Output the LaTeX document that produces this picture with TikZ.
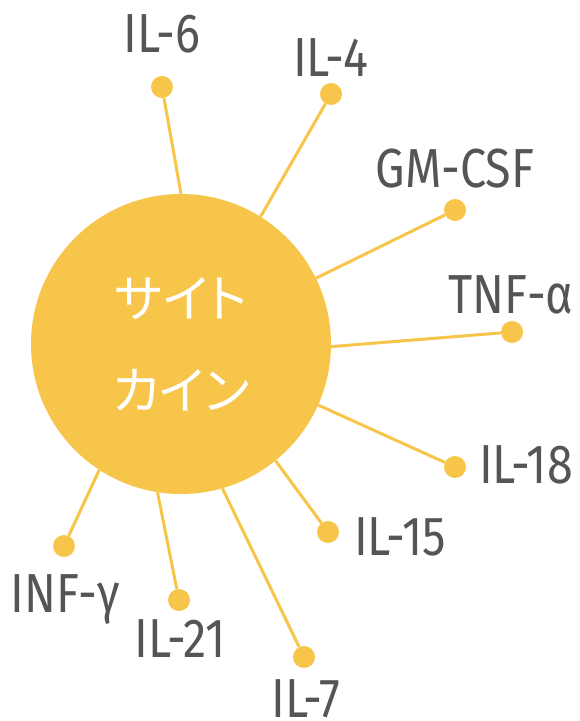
\documentclass[tikz,border=0pt]{standalone}
\usepackage{fontspec}
\setmainfont[FakeStretch=0.85]{Fira Sans}
\newfontfamily\jpfont[RawFeature=+palt]{Noto Sans CJK JP}
\definecolor{cyto}{HTML}{F6C54A}
\definecolor{labgray}{HTML}{555555}
\begin{document}
\begin{tikzpicture}[x=1pt,y=-1pt,
  hub/.style={circle,fill=cyto,minimum size=300pt,inner sep=0pt,text=white,align=center,
    font=\jpfont\fontsize{51}{92}\selectfont},
  dot/.style={circle,fill=cyto,minimum size=22pt,inner sep=0pt},
  spoke/.style={draw=cyto,line width=3pt},
  lab/.style={anchor=base,inner sep=0pt,text=labgray,font=\fontsize{55}{60}\selectfont}]
\useasboundingbox (0,0) rectangle (579,721);
\node[hub] (c) at (181,344) {サイト\\カイン};
\node[dot] (d6) at (162,87) {};
\node[dot] (d4) at (331,94) {};
\node[dot] (dgm) at (455,210) {};
\node[dot] (dtnf) at (512,332) {};
\node[dot] (d18) at (455,467) {};
\node[dot] (d15) at (328,532) {};
\node[dot] (d7) at (304,657) {};
\node[dot] (d21) at (179,600) {};
\node[dot] (dinf) at (64,546) {};
\draw[spoke] (d6) -- (c.90.8);
\draw[spoke] (d4) -- (c.58.5);
\draw[spoke] (dgm) -- (c.26.6);
\draw[spoke] (dtnf) -- (c.-1.1);
\draw[spoke] (d18) -- (c.-24.5);
\draw[spoke] (d15) -- (c.-51.7);
\draw[spoke] (d7) -- (c.-74.4);
\draw[spoke] (d21) -- (c.-99.1);
\draw[spoke] (dinf) -- (c.-123.4);
\node[lab] (l6) at (162,52) {IL-6};
\node[lab] (l4) at (331,76) {IL-4};
\node[lab] (lgm) at (455,187) {GM-CSF};
\node[lab] (ltnf) at (511,313) {TNF-α};
\node[lab] (l18) at (526,483) {IL-18};
\node[lab] (l15) at (400,555) {IL-15};
\node[lab] (l7) at (306,717) {IL-7};
\node[lab] (l21) at (180,657) {IL-21};
\node[lab] (linf) at (65,612) {INF-γ};
\end{tikzpicture}
\end{document}
